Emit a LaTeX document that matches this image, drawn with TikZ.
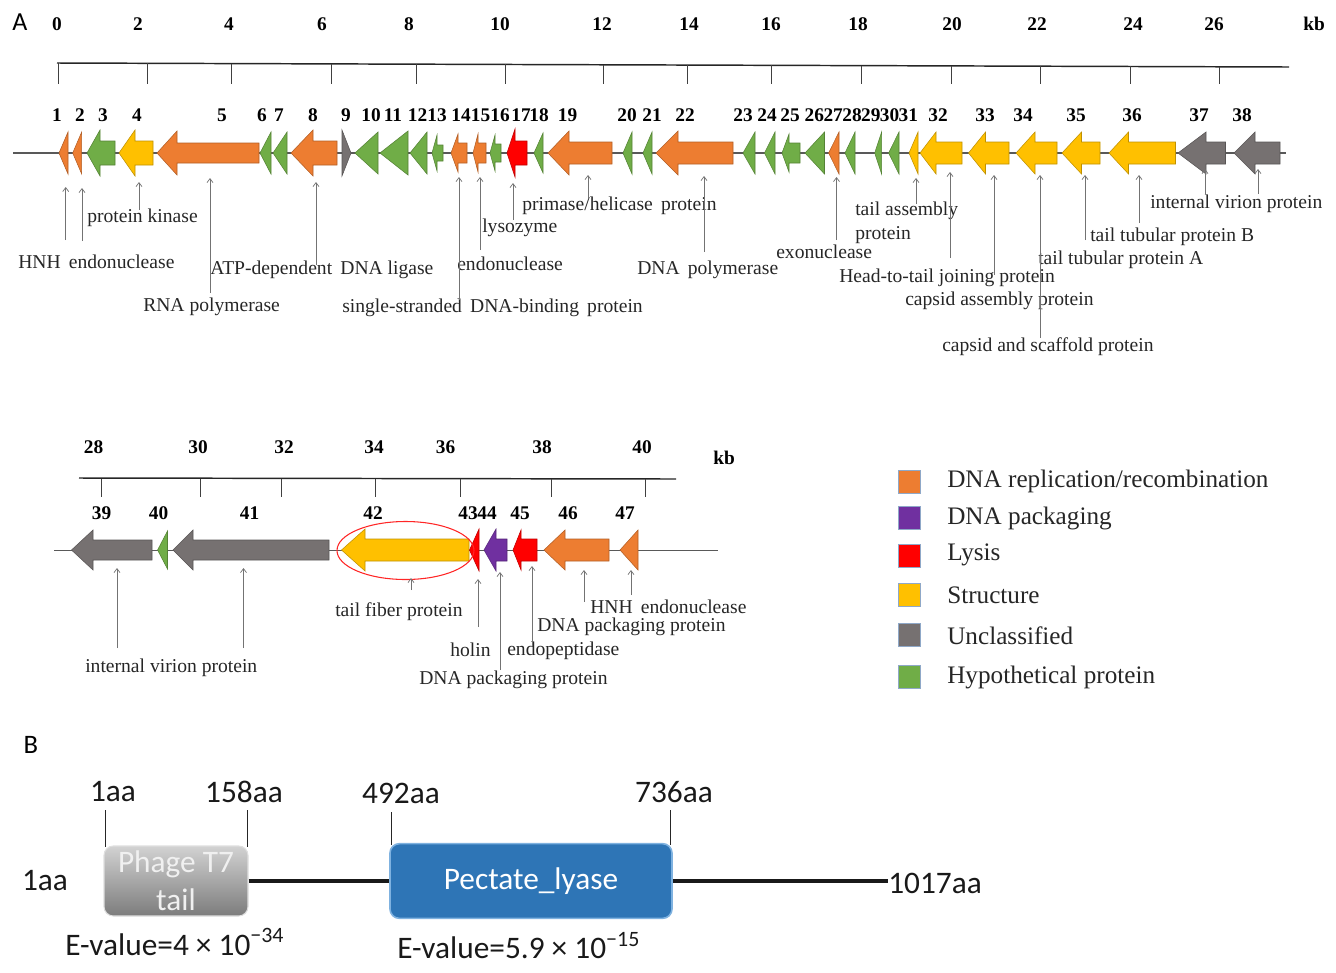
\documentclass[tikz,border=0pt]{standalone}
\usepackage{fontspec}
\setmainfont{Liberation Serif}
\newfontfamily\calib{Carlito}
\usetikzlibrary{arrows.meta,shapes.geometric}
\definecolor{gor}{HTML}{ED7D31}
\definecolor{ggr}{HTML}{70AD47}
\definecolor{gye}{HTML}{FFC000}
\definecolor{ggy}{HTML}{767171}
\definecolor{grd}{HTML}{FF0000}
\definecolor{gpu}{HTML}{7030A0}
\definecolor{pblue}{HTML}{2E75B6}
\definecolor{pborder}{HTML}{7FB2E0}
\definecolor{ptop}{HTML}{D2D2D2}
\definecolor{pbot}{HTML}{7C7C7C}
\definecolor{sqb}{HTML}{8FA8C8}
% left-pointing gene with body: name, tip, head base, right, y, head half, body half, colour
\newcommand{\geneA}[8]{%
  \coordinate (#1) at (#2,#5);
  \filldraw[fill=#8, draw=#8!75!black, line width=0.4pt] (#2,#5) -- (#3,#5-#6) -- (#3,#5-#7) -- (#4,#5-#7) -- (#4,#5+#7) -- (#3,#5+#7) -- (#3,#5+#6) -- cycle;}
% left-pointing triangle gene: name, tip, right, y, half height, colour
\newcommand{\geneT}[6]{%
  \coordinate (#1) at (#2,#4);
  \filldraw[fill=#6, draw=#6!75!black, line width=0.4pt] (#2,#4) -- (#3,#4-#5) -- (#3,#4+#5) -- cycle;}
% pointer: name, x, y start (bottom), y end (gene)
\newcommand{\genptr}[4]{%
  \coordinate (#1s) at (#2,#3); \coordinate (#1e) at (#2,#4);
  \draw[ptrs] (#1s) -- (#1e);}
\begin{document}
\begin{tikzpicture}[x=0.75pt,y=-0.75pt,
  gnum/.style={font=\bfseries\fontsize{14.5}{16}\selectfont, inner sep=0pt},
  lab/.style={font=\fontsize{14.7}{16}\selectfont, inner sep=0pt, anchor=west, text=black!85},
  leg/.style={font=\fontsize{18.9}{20}\selectfont, inner sep=0pt, anchor=west, text=black!85},
  ptrs/.style={draw=black!55, line width=0.55pt, -{Straight Barb[length=3pt,width=4.5pt]}},
  bb/.style={draw=black!65, line width=0.9pt},
  scl/.style={draw=black!85, line width=1.1pt},
  stk/.style={draw=black!75, line width=0.5pt},
  sq/.style={minimum width=16.5pt, minimum height=17.5pt, inner sep=0pt, draw=sqb, line width=0.5pt},
  bfont/.style={font=\calib\fontsize{23.5}{28}\selectfont, inner sep=0pt, text=black!90},
  panel/.style={font=\calib\fontsize{19.5}{20}\selectfont, inner sep=0pt},
  bline/.style={draw=black!90, line width=3pt},
  btick/.style={draw=black!85, line width=0.6pt},
]
\useasboundingbox (0,0) rectangle (1336,972);

% ---------------- panel A, top ----------------
\node[panel] (labA) at (20,22) {A};
\foreach \n/\x in {0/57,2/138,4/229,6/322,8/409,10/500,12/602,14/689,16/771,18/858,20/952,22/1037,24/1133,26/1214}
  \node[gnum] (s\n) at (\x,24) {\n};
\node[gnum] (kbtop) at (1314,24) {kb};
\coordinate (sl) at (57,63); \coordinate (sr) at (1289,67);
\draw[scl] (sl) -- (sr);
\foreach \x in {58,147,231,331,416,505,603,687,771,861,951,1040,1130,1219}
  \draw[stk] (\x,{63+4*(\x-57)/1232}) -- (\x,84);

% backbone
\coordinate (bbL) at (13,153); \coordinate (bbR) at (1286,153);
\draw[bb] (bbL) -- (bbR);

% genes, top row
\geneT{g1}{59}{68}{153}{21}{gor}
\geneT{g2}{72.7}{81.7}{153}{21}{gor}
\geneA{g3}{87}{100}{115}{153}{23}{12}{ggr}
\geneA{g4}{119}{135}{153}{153}{23}{12}{gye}
\geneA{g5}{157}{177}{259}{153}{22}{10}{gor}
\geneT{g6}{260}{271}{153}{21}{ggr}
\geneT{g7}{273}{287}{153}{21}{ggr}
\geneA{g8}{291}{313}{337}{153}{23}{12}{gor}
\coordinate (g9) at (342,153);
\filldraw[fill=ggy, draw=ggy!75!black, line width=0.4pt] (342,130) -- (351,153) -- (342,176) -- cycle;
\geneT{g10}{355}{378}{153}{21}{ggr}
\geneT{g11}{380}{408}{153}{22}{ggr}
\geneT{g12}{410}{427}{153}{21}{ggr}
\geneA{g13}{432}{437}{443}{153}{18}{8}{ggr}
\geneA{g14}{451}{458}{467}{153}{19}{10}{gor}
\geneA{g15}{473}{478}{486}{153}{19}{10}{gor}
\geneA{g16}{490}{495}{501}{153}{18}{9}{ggr}
\geneA{g17}{507}{515}{527}{153}{24}{12}{grd}
\geneT{g18}{534}{543}{153}{20}{ggr}
\geneA{g19}{548}{569}{612}{153}{22}{11}{gor}
\geneT{g20}{623}{632}{153}{21}{ggr}
\geneT{g21}{643}{652}{153}{21}{ggr}
\geneA{g22}{656}{678}{733}{153}{22}{11}{gor}
\geneT{g23}{743}{755}{153}{21}{ggr}
\geneT{g24}{764.5}{775}{153}{21}{ggr}
\geneA{g25}{782}{789}{800}{153}{19}{10}{ggr}
\geneT{g26}{805}{824.5}{153}{21}{ggr}
\geneT{g27}{828.6}{839}{153}{21}{gor}
\geneT{g28}{845}{855}{153}{21}{ggr}
\geneT{g29}{874.7}{881.6}{153}{21}{ggr}
\geneT{g30}{888.6}{899}{153}{21}{ggr}
\geneT{g31}{909}{918}{153}{21}{gye}
\geneA{g32}{920}{936}{962}{153}{21}{11}{gye}
\geneA{g33}{968.5}{985.5}{1009}{153}{21}{11}{gye}
\geneA{g34}{1016}{1035}{1057}{153}{21}{11}{gye}
\geneA{g35}{1062}{1081.5}{1100}{153}{21}{11}{gye}
\geneA{g36}{1109}{1128.5}{1175.5}{153}{21}{11}{gye}
\geneA{g37}{1178}{1206}{1225.5}{153}{21}{11}{ggy}
\geneA{g38}{1234}{1255}{1280}{153}{21}{11}{ggy}

% gene numbers, top row
\foreach \n/\x in {1/57,2/80,3/103,4/137,5/222,6/262,7/279,8/313,9/346,10/371,11/393,12/417.5,13/437,14/461,15/480.5,16/500,17/521,18/539,19/567.5,20/627,21/652,22/685,23/743,24/767,25/790,26/814.4,27/833.2,28/852,29/870.8,30/889.6,31/908.4,32/938,33/985,34/1023,35/1076,36/1132,37/1199,38/1242}
  \node[gnum] (n\n) at (\x,115) {\n};

% labels, top row
\node[lab] (l4) at (87,218) {protein kinase};
\node[lab] (l1) at (18,262) {HNH\ \,endonuclease};
\node[lab] (l8) at (210,270) {ATP-dependent\ \,DNA ligase};
\node[lab] (l5) at (143,307) {RNA polymerase};
\node[lab] (l19) at (522,206) {primase/helicase\ \,protein};
\node[lab] (l17) at (482,228) {lysozyme};
\node[lab] (l15) at (457,264) {endonuclease};
\node[lab] (l22) at (637,270) {DNA\ \,polymerase};
\node[lab] (l14) at (342,308) {single-stranded\ \,DNA-binding\ \,protein};
\node[lab] (l31a) at (855,211) {tail assembly};
\node[lab] (l31b) at (855,235) {protein};
\node[lab] (l27) at (776,252) {exonuclease};
\node[lab] (l32) at (839,278) {Head-to-tail joining protein};
\node[lab] (l33) at (905,301) {capsid assembly protein};
\node[lab] (l34) at (942,347) {capsid and scaffold protein};
\node[lab] (l35) at (1038,260) {tail tubular protein A};
\node[lab] (l36) at (1090,237) {tail tubular protein B};
\node[lab] (l37) at (1150,204) {internal virion protein};

% pointers, top row
\genptr{p1}{65.7}{240}{187}
\genptr{p2}{82}{241}{188}
\genptr{p4}{139}{210}{182}
\genptr{p5}{210}{293}{178}
\genptr{p8}{316}{265}{182}
\genptr{p14}{459}{300}{177}
\genptr{p15}{480}{250}{177}
\genptr{p17}{513}{220}{183}
\genptr{p19}{588}{198}{175}
\genptr{p22}{704}{252}{176}
\genptr{p27}{836.5}{240}{177}
\genptr{p31}{916}{204}{178}
\genptr{p32}{950}{258}{172}
\genptr{p33}{994}{275}{175}
\genptr{p34}{1040}{338}{175}
\genptr{p35}{1085}{240}{175}
\genptr{p36}{1139}{223}{175}
\genptr{p37}{1205}{194}{169}
\genptr{p38}{1258}{194}{169}

% ---------------- panel A, bottom ----------------
\foreach \n/\x in {28/93.5,30/198,32/284,34/374,36/445.5,38/542,40/642}
  \node[gnum] (b\n) at (\x,447) {\n};
\node[gnum] (kbbot) at (724,458) {kb};
\coordinate (bsl) at (79,478); \coordinate (bsr) at (676,479);
\draw[scl] (bsl) -- (bsr);
\foreach \x in {101.6,200.7,281,375,460,551,645.5}
  \draw[stk] (\x,478.5) -- (\x,497);

\coordinate (bbL2) at (54,550); \coordinate (bbR2) at (718,550);
\draw[bb, line width=0.6pt] (bbL2) -- (bbR2);

\geneA{g39}{71.5}{93}{152}{550}{20}{10}{ggy}
\geneT{g40}{157.6}{167.5}{550}{19}{ggr}
\geneA{g41}{173}{193}{329}{550}{20}{10}{ggy}
\geneA{g42}{341.5}{365}{469}{550}{21}{11}{gye}
\geneT{g43}{469.5}{479}{550}{21}{grd}
\geneA{g44}{484}{496}{507}{550}{21}{11}{gpu}
\geneA{g45}{513}{521}{537}{550}{20}{11}{grd}
\geneA{g46}{544}{565}{609}{550}{20}{11}{gor}
\geneT{g47}{620}{638}{550}{20}{gor}

\node[draw=red!85!white, line width=0.8pt, ellipse, minimum width=102.75pt, minimum height=43.5pt, inner sep=0pt] (ell) at (405.5,550.5) {};

\foreach \n/\x in {39/101.6,40/158.5,41/249.5,42/373,43/468,44/487,45/520,46/568,47/625}
  \node[gnum] (n\n) at (\x,513) {\n};

\node[lab] (l42) at (335,612) {tail fiber protein};
\node[lab] (l43) at (450,650) {holin};
\node[lab] (l45) at (507,651) {endopeptidase};
\node[lab] (l44) at (419,680) {DNA packaging protein};
\node[lab] (l47) at (590,607) {HNH\ \,endonuclease};
\node[lab] (l46) at (537,627) {DNA packaging protein};
\node[lab] (l39) at (85,668) {internal virion protein};

\genptr{p39}{117}{648}{568}
\genptr{p41}{243.5}{648}{568}
\genptr{p42}{411}{590}{578}
\genptr{p43}{478}{627}{579}
\genptr{p44}{500}{670}{572}
\genptr{p45}{532}{646}{566}
\genptr{p46}{584}{602}{570}
\genptr{p47}{631}{595}{570}

% legend
\node[sq, fill=gor] (sq1) at (909.5,481.5) {};
\node[leg] (lt1) at (947,481) {DNA replication/recombination};
\node[sq, fill=gpu] (sq2) at (909.5,518) {};
\node[leg] (lt2) at (947,518) {DNA packaging};
\node[sq, fill=grd] (sq3) at (909.5,556) {};
\node[leg] (lt3) at (947,555) {Lysis};
\node[sq, fill=gye] (sq4) at (909.5,595) {};
\node[leg] (lt4) at (947,595) {Structure};
\node[sq, fill=ggy] (sq5) at (909.5,634.5) {};
\node[leg] (lt5) at (947,636) {Unclassified};
\node[sq, fill=ggr] (sq6) at (909.5,677) {};
\node[leg] (lt6) at (947,677) {Hypothetical protein};

% ---------------- panel B ----------------
\node[panel, font=\calib\fontsize{20}{21}\selectfont] (labB) at (31,745) {B};

\node[bfont] (aa1) at (113,792) {1aa};
\node[bfont] (aa158) at (244,792) {158aa};
\node[bfont] (aa492) at (401,793) {492aa};
\node[bfont] (aa736) at (674,792) {736aa};
\node[bfont] (aa1L) at (45,881) {1aa};
\node[bfont, anchor=west] (aa1017) at (888,883) {1017aa};

\node[rounded corners=7pt, top color=ptop, bottom color=pbot, draw=gray!25, line width=0.8pt,
      minimum width=108pt, minimum height=52.5pt, align=center, inner sep=0pt,
      font=\calib\fontsize{23.5}{28.5}\selectfont, text=white!88!gray] (phage) at (176,881) {Phage T7\\tail};
\node[rounded corners=7pt, fill=pblue, draw=pborder, line width=1.2pt,
      minimum width=211.5pt, minimum height=56pt, inner sep=0pt,
      font=\calib\fontsize{23.5}{28}\selectfont, text=white] (pect) at (531,881) {\raisebox{-2pt}{Pectate\_lyase}};

\draw[bline] (phage.east) -- (pect.west);
\draw[bline] (pect.east) -- (aa1017.west |- pect.east);

\coordinate (k1t) at (105,810); \coordinate (k1b) at (105,847);
\coordinate (k2t) at (247,810); \coordinate (k2b) at (247,847);
\coordinate (k3t) at (391,812); \coordinate (k3b) at (391,845);
\coordinate (k4t) at (670,810); \coordinate (k4b) at (670,845);
\draw[btick] (k1t) -- (k1b);
\draw[btick] (k2t) -- (k2b);
\draw[btick] (k3t) -- (k3b);
\draw[btick] (k4t) -- (k4b);

\node[bfont, anchor=west] (ev1) at (65,942) {E-value=4 × 10\textsuperscript{−34}};
\node[bfont, anchor=west] (ev2) at (397,946) {E-value=5.9 × 10\textsuperscript{−15}};
\end{tikzpicture}
\end{document}
